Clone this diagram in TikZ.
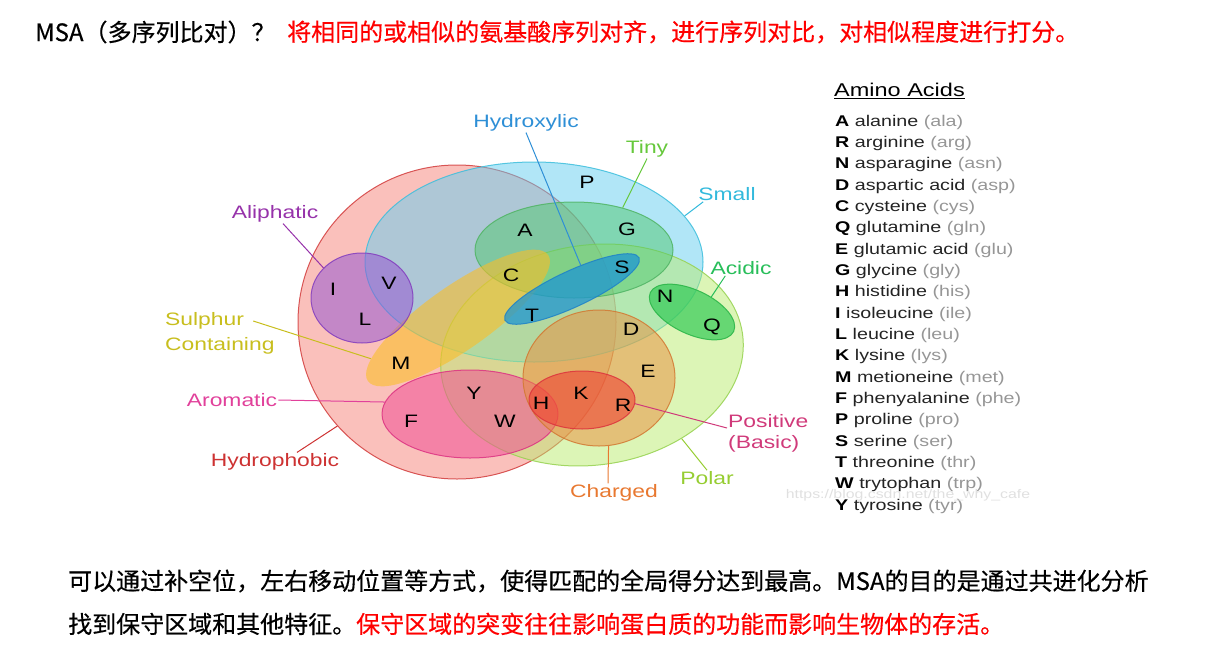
\documentclass[tikz,border=0pt]{standalone}
\usepackage{fontspec}
\setmainfont{Liberation Sans}
\newfontfamily\cjk[FakeBold=0.4]{Noto Sans CJK SC}
\newfontfamily\dfont[FakeStretch=1.27]{Liberation Sans}
\usetikzlibrary{shapes.geometric}
\usetikzlibrary{positioning}

% fills and borders of the sets
\definecolor{hydroF}{RGB}{246,130,120}
\definecolor{hydroD}{RGB}{210,60,60}
\definecolor{smallF}{RGB}{100,205,240}
\definecolor{smallD}{RGB}{60,190,220}
\definecolor{polarF}{RGB}{185,235,110}
\definecolor{polarD}{RGB}{150,210,80}
\definecolor{tinyF}{RGB}{80,200,110}
\definecolor{tinyD}{RGB}{80,180,100}
\definecolor{sulphF}{RGB}{250,190,40}
\definecolor{hydroxF}{RGB}{30,150,210}
\definecolor{hydroxD}{RGB}{30,130,200}
\definecolor{aliphF}{RGB}{150,90,210}
\definecolor{aliphD}{RGB}{130,60,190}
\definecolor{aromF}{RGB}{240,80,150}
\definecolor{aromD}{RGB}{220,50,130}
\definecolor{chargedF}{RGB}{235,140,60}
\definecolor{chargedD}{RGB}{210,120,50}
\definecolor{posF}{RGB}{240,60,50}
\definecolor{posD}{RGB}{220,50,60}
\definecolor{acidF}{RGB}{40,200,80}
\definecolor{acidD}{RGB}{40,180,70}
% label colours
\definecolor{lblHydroxC}{RGB}{46,143,214}
\definecolor{lblTinyC}{RGB}{102,200,60}
\definecolor{lblSmallC}{RGB}{50,185,220}
\definecolor{lblAcidC}{RGB}{40,190,90}
\definecolor{lblAliphC}{RGB}{150,50,170}
\definecolor{lblSulphC}{RGB}{200,190,30}
\definecolor{lblAromC}{RGB}{225,65,155}
\definecolor{lblHydroC}{RGB}{205,50,50}
\definecolor{lblChargedC}{RGB}{232,120,48}
\definecolor{lblPolarC}{RGB}{150,205,50}
\definecolor{lblPosC}{RGB}{208,58,122}
\definecolor{keyName}{RGB}{35,35,35}
\definecolor{keyGray}{RGB}{150,150,150}

\tikzset{
  set/.style={ellipse, draw, inner sep=0pt, line width=1pt, fill opacity=0.5, draw opacity=0.85},
  res/.style={font=\dfont\fontsize{18}{21}\selectfont, text=black, inner sep=1pt},
  lbl/.style={font=\dfont\fontsize{18}{21}\selectfont, inner sep=1pt},
  lead/.style={line width=1pt},
  key/.style={font=\dfont\fontsize{15.5}{18}\selectfont, anchor=west, inner sep=0pt, text=keyName},
  zh/.style={font=\cjk\fontsize{24}{28}\selectfont, anchor=west, inner sep=0pt},
}

\begin{document}
\begin{tikzpicture}[x=1pt,y=-1pt]
\useasboundingbox (0,0) rectangle (1209,653);

% header line
\node[zh] (msa) at (35,32) {MSA（多序列比对）？};
\node[zh, text=red] (goal) at (287,32) {将相同的或相似的氨基酸序列对齐，进行序列对比，对相似程度进行打分。};

% the sets
\node[set, fill=hydroF, draw=hydroD, minimum width=318pt, minimum height=314pt] (hydro) at (457,322) {};
\node[set, fill=smallF, draw=smallD, minimum width=338pt, minimum height=200pt] (small) at (534,262) {};
\node[set, fill=polarF, draw=polarD, minimum width=304pt, minimum height=220pt, rotate=8] (polar) at (592,355) {};
\node[set, fill=tinyF, draw=tinyD, minimum width=198pt, minimum height=96pt] (tiny) at (574,250) {};
\node[set, fill=sulphF, draw=none, fill opacity=0.6, minimum width=220pt, minimum height=64pt, rotate=35] (sulphur) at (458,318) {};
\node[set, fill=aliphF, draw=aliphD, fill opacity=0.55, minimum width=102pt, minimum height=90pt] (aliph) at (362,298) {};
\node[set, fill=aromF, draw=aromD, fill opacity=0.55, minimum width=176pt, minimum height=88pt] (arom) at (470,414) {};
\node[set, fill=chargedF, draw=chargedD, minimum width=152pt, minimum height=136pt] (charged) at (599,378) {};
\node[set, fill=posF, draw=posD, fill opacity=0.55, minimum width=106pt, minimum height=58pt] (pos) at (582,400) {};
\node[set, fill=hydroxF, draw=hydroxD, fill opacity=0.75, minimum width=148pt, minimum height=36pt, rotate=25] (hydrox) at (572,289) {};
\node[set, fill=acidF, draw=acidD, fill opacity=0.65, minimum width=92pt, minimum height=44pt, rotate=-25] (acid) at (692,312) {};

% residues
\foreach \aa/\px/\py in {P/587/182, A/525/230, G/627/229, C/511/275, S/622/267, T/532/315,
    N/665/296, Q/712/327, D/631/329, E/648/371, I/333/289, V/389/283, L/365/319, M/401/363,
    Y/474/393, W/505/421, H/541/403, K/581/393, R/623/405, F/411/421}
  \node[res] (aa\aa) at (\px,\py) {\aa};

% set labels
\node[lbl, text=lblHydroxC] (lblHydrox) at (526,123) {Hydroxylic};
\node[lbl, text=lblTinyC] (lblTiny) at (647,149) {Tiny};
\node[lbl, text=lblSmallC] (lblSmall) at (727,194) {Small};
\node[lbl, text=lblAcidC] (lblAcid) at (741,268) {Acidic};
\node[lbl, text=lblAliphC] (lblAliph) at (275,214) {Aliphatic};
\node[lbl, text=lblSulphC, anchor=west] (lblSulph) at (164,321) {Sulphur};
\node[lbl, text=lblSulphC, anchor=west] (lblSulph2) at (164,346) {Containing};
\node[lbl, text=lblAromC] (lblArom) at (232,400) {Aromatic};
\node[lbl, text=lblHydroC] (lblHydro) at (275,462) {Hydrophobic};
\node[lbl, text=lblChargedC] (lblCharged) at (614,493) {Charged};
\node[lbl, text=lblPolarC] (lblPolar) at (707,478) {Polar};
\node[lbl, text=lblPosC, anchor=west, align=left] (lblPos) at (727,433) {Positive\\(Basic)};

% leaders
\draw[lead, lblHydroxC] (lblHydrox.south) -- (hydrox.45);
\draw[lead, lblTinyC] (lblTiny.south) -- (tiny.41);
\draw[lead, lblSmallC] ([xshift=6pt]lblSmall.south west) -- (small.17);
\draw[lead, lblAcidC] ([xshift=16pt]lblAcid.south west) -- (acid.63);
\draw[lead, lblAliphC] ([xshift=8pt]lblAliph.south) -- (aliph.142);
\draw[lead, lblSulphC] ([xshift=8pt]lblSulph.east) -- (sulphur.170);
\draw[lead, lblAromC] (lblArom.east) -- (arom.172);
\draw[lead, lblHydroC] ([xshift=22pt]lblHydro.north) -- (hydro.221);
\draw[lead, lblChargedC] ([xshift=-6pt]lblCharged.north) -- (charged.278);
\draw[lead, lblPolarC] (lblPolar.north) -- (polar.309);
\draw[lead, lblPosC] ([yshift=5pt]lblPos.west) -- (pos.356);

% key of amino acids
\node[key, font=\dfont\fontsize{18.5}{21}\selectfont, text=black] (keyTitle) at (834,91) {\underline{Amino Acids}};
\foreach \ab/\nm/\sh [count=\i from 0] in {A/alanine/ala, R/arginine/arg, N/asparagine/asn,
    D/aspartic acid/asp, C/cysteine/cys, Q/glutamine/gln, E/glutamic acid/glu, G/glycine/gly,
    H/histidine/his, I/isoleucine/ile, L/leucine/leu, K/lysine/lys, M/metioneine/met,
    F/phenyalanine/phe, P/proline/pro, S/serine/ser, T/threonine/thr, W/trytophan/trp, Y/tyrosine/tyr}
  \node[key] (key\ab) at (835,122+21.35*\i) {\textcolor{black}{\textbf{\ab}} \nm\ \textcolor{keyGray}{(\sh)}};
\node[font=\dfont\fontsize{12.5}{14}\selectfont, text=black!12] (mark) at (908,495) {https://blog.csdn.net/the\_why\_cafe};

% closing text
\node[zh] (note1) at (68,581) {可以通过补空位，左右移动位置等方式，使得匹配的全局得分达到最高。MSA的目的是通过共进化分析};
\node[zh] (note2) at (68,624) {找到保守区域和其他特征。\textcolor{red}{保守区域的突变往往影响蛋白质的功能而影响生物体的存活。}};
\end{tikzpicture}
\end{document}
